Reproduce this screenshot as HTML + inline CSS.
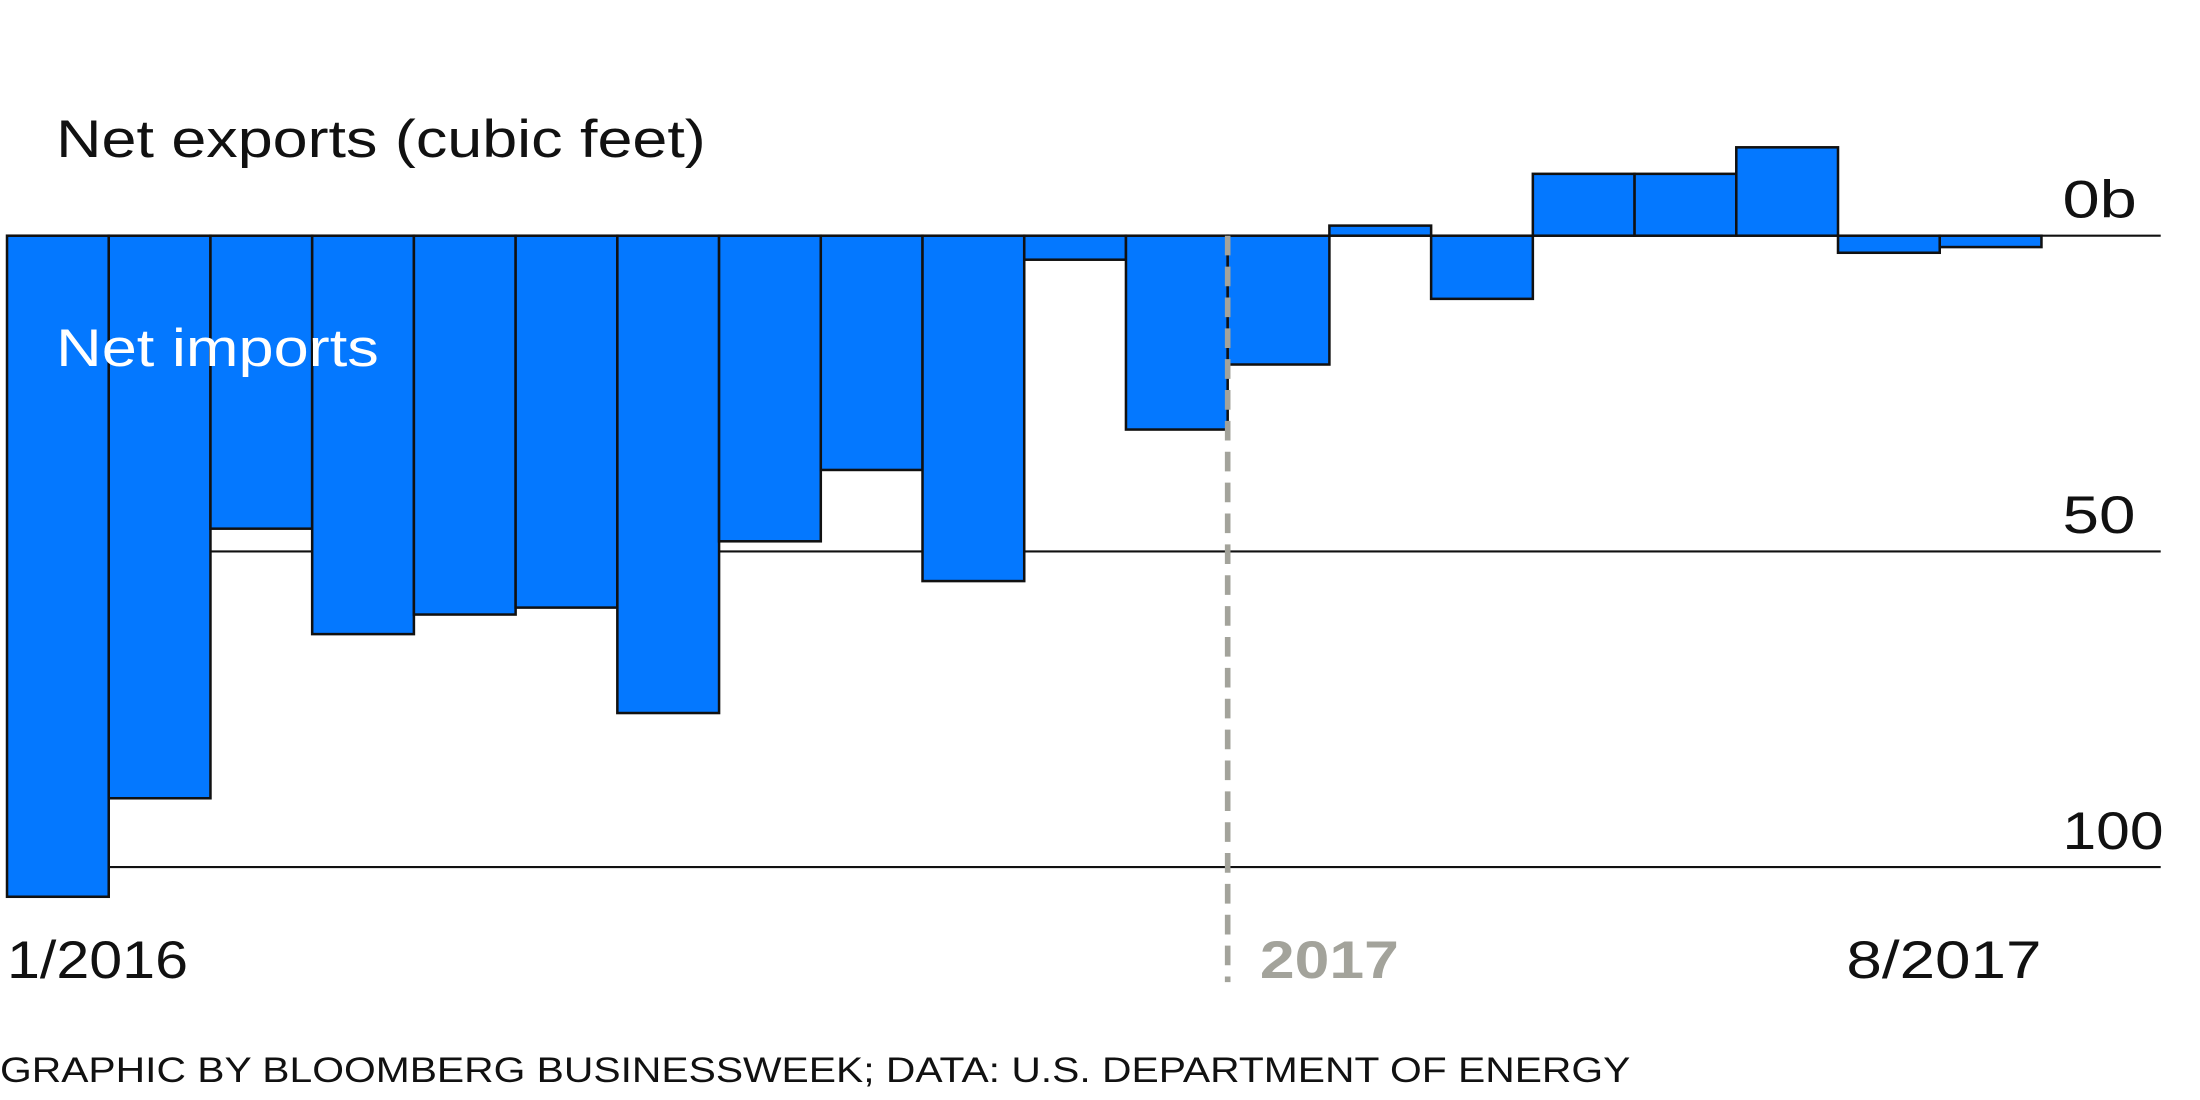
<!DOCTYPE html>
<html><head><meta charset="utf-8"><style>
html,body{margin:0;padding:0;background:#fff;}
svg{display:block;font-family:"Liberation Sans",sans-serif;}
</style></head><body>
<svg id="chart" width="2200" height="1100" viewBox="0 0 1568 784" xmlns="http://www.w3.org/2000/svg">
<g id="grid"></g>
<g id="bars"></g>
<line x1="875" y1="168" x2="875" y2="700" stroke="#a3a39b" stroke-width="4" stroke-dasharray="14 8"/>
<g id="ticks"></g>
<text x="40" y="112" font-size="38" fill="#111" textLength="463" lengthAdjust="spacingAndGlyphs">Net exports (cubic feet)</text>
<text x="40" y="261" font-size="38" fill="#fff" textLength="230" lengthAdjust="spacingAndGlyphs">Net imports</text>
<text x="5" y="697" font-size="38" fill="#111" textLength="129" lengthAdjust="spacingAndGlyphs">1/2016</text>
<text x="898" y="697" font-size="38" font-weight="bold" fill="#a3a39b" textLength="99" lengthAdjust="spacingAndGlyphs">2017</text>
<text x="1316" y="697" font-size="38" fill="#111" textLength="139" lengthAdjust="spacingAndGlyphs">8/2017</text>
<text x="0" y="771" font-size="25" fill="#111" textLength="1162" lengthAdjust="spacingAndGlyphs">GRAPHIC BY BLOOMBERG BUSINESSWEEK; DATA: U.S. DEPARTMENT OF ENERGY</text>
</svg>
<script>
// Positive = net imports (drawn below zero), negative = net exports
const months = ["1/16","2/16","3/16","4/16","5/16","6/16","7/16","8/16","9/16","10/16","11/16","12/16","1/17","2/17","3/17","4/17","5/17","6/17","7/17","8/17"];
const netImports = [104.7, 89.1, 46.4, 63.1, 60, 58.9, 75.6, 48.4, 37.1, 54.7, 3.8, 30.7, 20.4, -1.6, 10, -9.8, -9.8, -14, 2.7, 1.8];
const tickValues = [0, 50, 100];
const tickLabels = ["0b", "50", "100"];
const tickWidths = [53, 52, 72];

const NS = "http://www.w3.org/2000/svg";
const x0 = 5, barW = 72.5, y0 = 168, pxPerUnit = 4.5;
const xScale = i => x0 + i * barW;
const yScale = v => y0 + v * pxPerUnit;

const grid = document.getElementById('grid');
const ticks = document.getElementById('ticks');
tickValues.forEach((v, i) => {
  const l = document.createElementNS(NS, 'line');
  
  
  l.setAttribute('x1', x0); l.setAttribute('x2', 1540);
  l.setAttribute('y1', yScale(v)); l.setAttribute('y2', yScale(v));
  l.setAttribute('stroke', '#111'); l.setAttribute('stroke-width', '1.5');
  grid.appendChild(l);
  const t = document.createElementNS(NS, 'text');
  
  
  t.setAttribute('x', 1470); t.setAttribute('y', yScale(v) - 13);
  t.setAttribute('font-size', '38'); t.setAttribute('fill', '#111');
  t.setAttribute('textLength', tickWidths[i]); t.setAttribute('lengthAdjust', 'spacingAndGlyphs');
  t.textContent = tickLabels[i];
  ticks.appendChild(t);
});

const bars = document.getElementById('bars');
netImports.forEach((v, i) => {
  const r = document.createElementNS(NS, 'rect');
  
  
  r.setAttribute('x', xScale(i));
  r.setAttribute('width', barW);
  r.setAttribute('y', yScale(Math.min(0, v)));
  r.setAttribute('height', Math.abs(yScale(v) - yScale(0)));
  r.setAttribute('fill', '#0478ff');
  r.setAttribute('stroke', '#111');
  r.setAttribute('stroke-width', '1.8');
  bars.appendChild(r);
});
</script>
</body></html>
